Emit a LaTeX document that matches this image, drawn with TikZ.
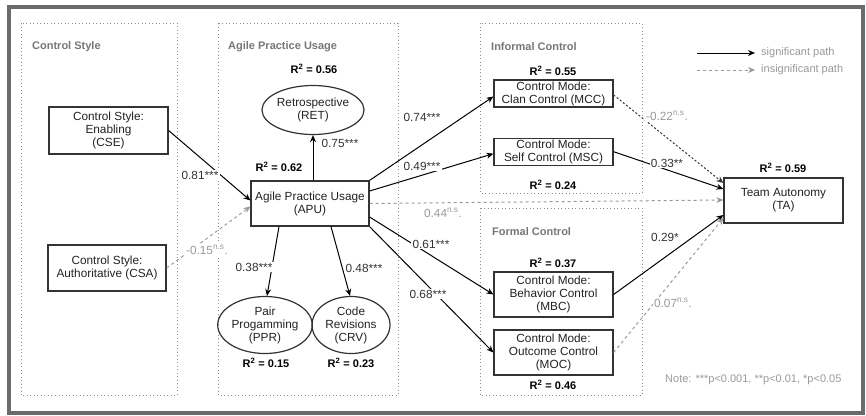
\documentclass[tikz,border=0pt]{standalone}
\usepackage{fontspec}
\setmainfont{Liberation Sans}
\usetikzlibrary{arrows.meta,shapes.geometric}
\definecolor{framegray}{HTML}{6B6B6B}
\definecolor{boxline}{HTML}{333333}
\definecolor{dotgray}{HTML}{8C8C8C}
\definecolor{titlegray}{HTML}{777777}
\definecolor{nsgray}{HTML}{9A9A9A}
\definecolor{labeltxt}{HTML}{333333}
\definecolor{nodetxt}{HTML}{222222}
\begin{document}
\begin{tikzpicture}[x=1pt,y=-1pt,
  font=\fontsize{11.8}{13}\selectfont,
  rbox/.style={draw=boxline,line width=1.2pt,align=center,inner sep=0pt,text=nodetxt},
  oval/.style={ellipse,draw=boxline,line width=1.2pt,align=center,inner sep=0pt,text=nodetxt},
  rsq/.style={font=\bfseries\fontsize{11}{13}\selectfont,text=black,inner sep=0pt},
  sig/.style={draw=black,line width=1pt,-{Stealth[length=7pt,width=6pt]}},
  nsl/.style={draw=nsgray,line width=1pt,dash pattern=on 3pt off 3pt,-{Stealth[length=7pt,width=6pt]}},
  nsdark/.style={draw=boxline,line width=1pt,dash pattern=on 2pt off 2pt,-{Stealth[length=7pt,width=6pt]}},
  lab/.style={fill=white,text=labeltxt,inner sep=1.2pt},
  nslab/.style={fill=white,text=nsgray,inner sep=1.2pt},
  grp/.style={draw=dotgray,line width=0.9pt,dash pattern=on 0.9pt off 2.6pt},
  grptitle/.style={anchor=west,text=titlegray,font=\bfseries\fontsize{11}{13}\selectfont,inner sep=0pt},
  legtxt/.style={anchor=west,text=nsgray,font=\fontsize{11}{13}\selectfont,inner sep=0pt}
]
\useasboundingbox (0,0) rectangle (866,415);
\fill[white] (0,0) rectangle (866,415);
\draw[framegray,line width=4pt] (8.5,7) rectangle (863,413);

% groups
\draw[grp] (21,23) rectangle (177,395);
\draw[grp] (218,23) rectangle (398,395);
\draw[grp] (480,23) rectangle (642,193);
\draw[grp] (480,208) rectangle (642,395);
\node[grptitle] (t1) at (32,47) {Control Style};
\node[grptitle] (t2) at (228,47) {Agile Practice Usage};
\node[grptitle] (t3) at (491,47) {Informal Control};
\node[grptitle] (t4) at (492,232) {Formal Control};

% nodes
\node[rbox,minimum width=119pt,minimum height=47pt] (CSE) at (108.5,130.5) {Control Style:\\Enabling\\(CSE)};
\node[rbox,minimum width=118pt,minimum height=46pt] (CSA) at (107,268) {Control Style:\\Authoritative (CSA)};
\node[rbox,minimum width=118pt,minimum height=45pt] (APU) at (310,203.5) {Agile Practice Usage\\(APU)};
\node[oval,minimum width=77pt,minimum height=49pt] (RET) at (313,110) {Retrospective\\(RET)};
\node[oval,minimum width=77pt,minimum height=57pt] (PPR) at (265,325) {Pair\\Progamming\\(PPR)};
\node[oval,minimum width=78pt,minimum height=57pt] (CRV) at (351,325) {Code\\Revisions\\(CRV)};
\node[rbox,minimum width=119pt,minimum height=27pt] (MCC) at (553.5,93.5) {Control Mode:\\Clan Control (MCC)};
\node[rbox,minimum width=119pt,minimum height=27pt] (MSC) at (553.5,151.7) {Control Mode:\\Self Control (MSC)};
\node[rbox,minimum width=119pt,minimum height=45pt] (MBC) at (553.5,294.5) {Control Mode:\\Behavior Control\\(MBC)};
\node[rbox,minimum width=119pt,minimum height=45pt] (MOC) at (553.5,352.5) {Control Mode:\\Outcome Control\\(MOC)};
\node[rbox,minimum width=119pt,minimum height=45pt] (TA) at (783.5,200.5) {Team Autonomy\\(TA)};

% R squared
\node[rsq] (r1) at (314,69) {R\textsuperscript{2} = 0.56};
\node[rsq] (r2) at (279,167) {R\textsuperscript{2} = 0.62};
\node[rsq] (r3) at (266,363) {R\textsuperscript{2} = 0.15};
\node[rsq] (r4) at (351,363) {R\textsuperscript{2} = 0.23};
\node[rsq] (r5) at (553,71) {R\textsuperscript{2} = 0.55};
\node[rsq] (r6) at (553,185) {R\textsuperscript{2} = 0.24};
\node[rsq] (r7) at (553,263) {R\textsuperscript{2} = 0.37};
\node[rsq] (r8) at (553,385) {R\textsuperscript{2} = 0.46};
\node[rsq] (r9) at (783,168) {R\textsuperscript{2} = 0.59};

% edges
\draw[sig] (CSE.east) -- ([yshift=3pt]APU.west);
\draw[nsl] (CSA.east) -- ([yshift=-3pt]APU.west);
\draw[sig] ([xshift=3pt]APU.north) -- (RET.south);
\draw[sig] ([xshift=-31pt]APU.south) -- ([xshift=2pt]PPR.north);
\draw[sig] ([xshift=21pt]APU.south) -- ([xshift=-1pt]CRV.north);
\draw[sig] (APU.north east) -- ([yshift=-3pt]MCC.west);
\draw[sig] ([yshift=12.5pt]APU.east) -- ([yshift=-2pt]MSC.west);
\draw[nsl] (APU.east) -- ([yshift=0.5pt]TA.west);
\draw[sig] ([yshift=-13.5pt]APU.east) -- (MBC.west);
\draw[sig] (APU.south east) -- (MOC.west);
\draw[nsdark] ([yshift=-1.5pt]MCC.east) -- ([yshift=17.5pt]TA.west);
\draw[sig] (MSC.east) -- ([yshift=11.5pt]TA.west);
\draw[sig] (MBC.east) -- ([yshift=-14.5pt]TA.west);
\draw[nsl] (MOC.east) -- ([yshift=-17.5pt]TA.west);

% edge labels
\node[lab] (l1) at (200,175) {0.81***};
\node[nslab] (l2) at (207,250) {-0.15\textsuperscript{n.s}.};
\node[lab] (l3) at (340,143) {0.75***};
\node[lab] (l4) at (254,267) {0.38***};
\node[lab] (l5) at (364,268) {0.48***};
\node[lab] (l6) at (422,117) {0.74***};
\node[lab] (l7) at (422,166) {0.49***};
\node[nslab] (l8) at (443,213) {0.44\textsuperscript{n.s}.};
\node[lab] (l9) at (431,244) {0.61***};
\node[lab] (l10) at (428,294) {0.68***};
\node[nslab] (l11) at (667,116) {-0.22\textsuperscript{n.s}.};
\node[lab] (l12) at (667,163) {0.33**};
\node[lab] (l13) at (665,237) {0.29*};
\node[nslab] (l14) at (673,303) {0.07\textsuperscript{n.s}.};

% legend
\coordinate (a1) at (697,53);
\coordinate (a2) at (755,53);
\coordinate (b1) at (697,70);
\coordinate (b2) at (755,70);
\draw[sig] (a1) -- (a2);
\draw[nsl] (b1) -- (b2);
\node[legtxt] (g1) at (761,53) {significant path};
\node[legtxt] (g2) at (761,70) {insignificant path};
\node[legtxt] (note) at (665,380) {Note: ***p<0.001, **p<0.01, *p<0.05};
\end{tikzpicture}
\end{document}
